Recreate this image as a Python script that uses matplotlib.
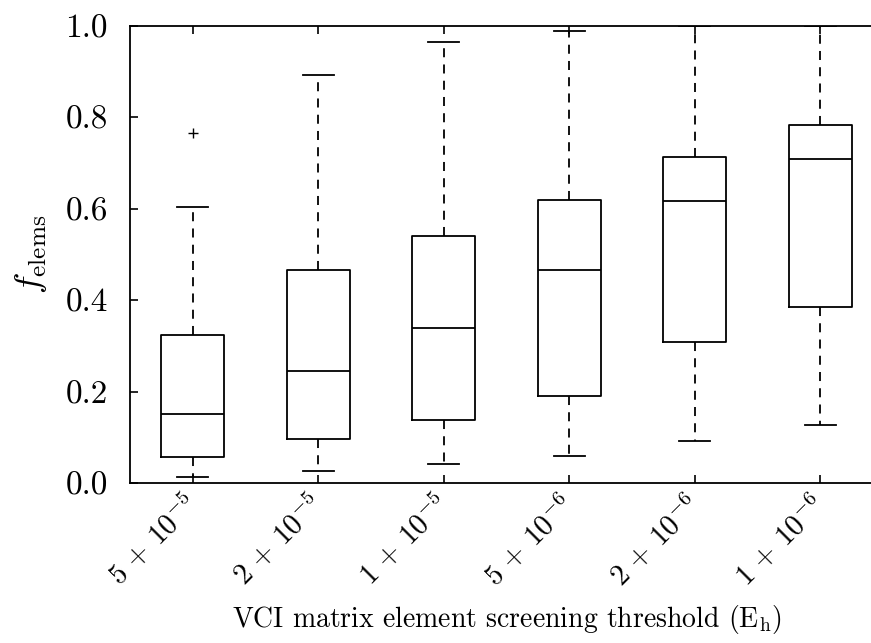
import matplotlib
matplotlib.use("Agg")
import matplotlib.pyplot as plt

plt.rcParams["font.family"] = "serif"
plt.rcParams["font.serif"] = ["cmr10"]
plt.rcParams["mathtext.fontset"] = "cm"
plt.rcParams["axes.unicode_minus"] = False
plt.rcParams["axes.formatter.use_mathtext"] = True

# screening thresholds and the box statistics of f_elems for each
labels = [r"$5\,+\,10^{-5}$", r"$2\,+\,10^{-5}$", r"$1\,+\,10^{-5}$",
          r"$5\,+\,10^{-6}$", r"$2\,+\,10^{-6}$", r"$1\,+\,10^{-6}$"]
whislo = [0.014, 0.027, 0.041, 0.058, 0.092, 0.127]
q1 = [0.056, 0.096, 0.137, 0.191, 0.308, 0.385]
med = [0.150, 0.245, 0.339, 0.467, 0.617, 0.709]
q3 = [0.323, 0.465, 0.540, 0.619, 0.714, 0.783]
whishi = [0.604, 0.892, 0.964, 0.989, 0.999, 0.999]
fliers = [[0.765], [], [], [], [], []]

stats = []
for i in range(len(labels)):
    stats.append(dict(label=labels[i], whislo=whislo[i], q1=q1[i], med=med[i],
                      q3=q3[i], whishi=whishi[i], fliers=fliers[i]))

fig = plt.figure(figsize=(8.71, 6.43), dpi=100)
ax = fig.add_axes([130 / 871, 1 - 483 / 643, 753 / 871, 457 / 643])

ax.bxp(stats, widths=0.5, showfliers=True,
       boxprops=dict(color="black", linewidth=1.3),
       medianprops=dict(color="black", linewidth=1.3),
       whiskerprops=dict(color="black", linewidth=1.3, linestyle=(0, (5, 4))),
       capprops=dict(color="black", linewidth=1.3),
       flierprops=dict(marker="+", markeredgecolor="black", markersize=7))

ax.set_xlim(0.5, 6.5)
ax.set_ylim(0.0, 1.0)
ax.set_yticks([0.0, 0.2, 0.4, 0.6, 0.8, 1.0])
ax.set_yticklabels(["0.0", "0.2", "0.4", "0.6", "0.8", "1.0"])
ax.set_xticklabels(labels, rotation=45, ha="right", va="center", rotation_mode="anchor")
ax.tick_params(direction="in", top=True, right=True, length=6, width=1.2)
ax.tick_params(axis="y", labelsize=24, pad=16)
ax.tick_params(axis="x", labelsize=21, pad=12)
for s in ax.spines.values():
    s.set_linewidth(1.3)

ax.set_ylabel(r"$f_{\mathrm{elems}}$", fontsize=26, labelpad=12)
ax.set_xlabel(r"VCI matrix element screening threshold ($\mathrm{E_h}$)", fontsize=20)
ax.xaxis.set_label_coords(0.5, -0.262)

fig.savefig("out.png", dpi=100)
